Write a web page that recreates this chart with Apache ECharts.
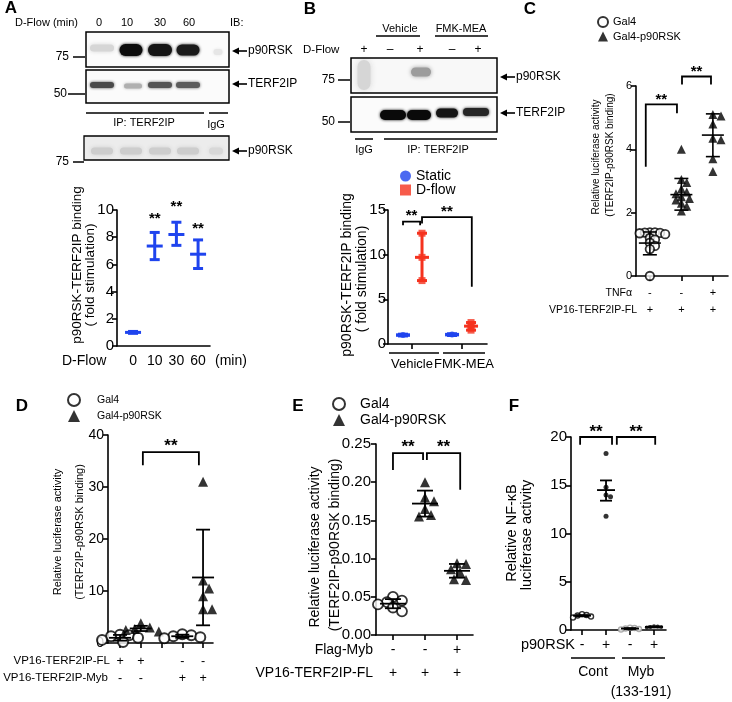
<!DOCTYPE html>
<html><head><meta charset="utf-8">
<script src="https://cdn.jsdelivr.net/npm/echarts@6/dist/echarts.min.js"></script>
<style>html,body{margin:0;padding:0;background:#fff}#c{width:732px;height:702px}</style>
</head><body><div id="c"></div>
<script>
const FONT = '"Liberation Sans", Arial, Helvetica, sans-serif';

// ================= DATA =================
// Panel A : p90RSK-TERF2IP binding vs D-flow time
const aTimes = ['0', '10', '30', '60'];
const aMean = [1.0, 7.35, 8.2, 6.75];
const aLow  = [0.93, 6.35, 7.4, 5.7];
const aHigh = [1.07, 8.35, 9.1, 7.8];
const aStars = [[1, 9.6], [2, 10.5], [3, 8.9]];

// Panel B : Static / D-flow, Vehicle vs FMK-MEA
const bGroups = ['Vehicle', 'FMK-MEA'];
const bSigns = ['+', '–', '+', '–', '+'];
const bStatMean = [1.0, 1.05];
const bStatLow  = [0.93, 0.98];
const bStatHigh = [1.07, 1.12];
const bStatPts  = [[1.0], [1.05]];
const bFlowMean = [9.7, 2.0];
const bFlowLow  = [7.1, 1.55];
const bFlowHigh = [12.4, 2.4];
const bFlowPts  = [[12.4, 9.7, 7.1], [2.4, 2.0, 1.55]];
const bBrackets = [[0, 0.9, 13.7, 13.3, 13.3], [1.0, 3.62, 14.2, 13.5, 6.4]];

// Panel C
const cTnf  = ['-', '-', '+'];
const cVp16 = ['+', '+', '+'];
const cGal4 = [1.38, 1.38, 1.37, 1.36, 1.35, 1.32, 1.2, 1.15, 1.05, 0.95, 0.85, 0.0];
const cRsk  = [4.0, 3.05, 2.95, 2.75, 2.65, 2.6, 2.5, 2.45, 2.4, 2.3, 2.2, 2.05];
const cRskTnf = [5.1, 5.05, 4.8, 4.35, 4.3, 3.7, 3.3];
const cMean = [1.04, 2.57, 4.45];
const cLow  = [0.67, 2.08, 3.77];
const cHigh = [1.39, 3.08, 5.12];
const cBrackets = [[-0.13, 0.86, 5.42, 3.45, 5.14], [1.02, 1.94, 6.3, 6.05, 6.05]];

// Panel D
const dFL  = ['+', '+', '-', '-'];
const dMyb = ['-', '-', '+', '+'];
const dGal4FL  = [1.6, 1.5, 1.3, 1.0, 0.6, 0.2];
const dRskFL   = [3.8, 3.0, 2.7, 2.5, 2.2];
const dGal4Myb = [1.7, 1.5, 1.3, 1.1, 0.9];
const dRskMyb  = [31, 12, 10.5, 9, 6.5, 6.5];
const dMean = [1.0, 2.8, 1.3, 12.6];
const dLow  = [0.45, 2.3, 1.0, 3.4];
const dHigh = [1.55, 3.3, 1.6, 21.8];
const dBrackets = [[1.1, 3.8, 36.7, 34.2, 34.2]];

// Panel E
const eMyb = ['-', '-', '+'];
const eFL  = ['+', '+', '+'];
const eGal4 = [0.050, 0.045, 0.043, 0.040, 0.036, 0.031];
const eRsk  = [0.200, 0.180, 0.175, 0.165, 0.157, 0.155];
const eRskMyb = [0.094, 0.093, 0.086, 0.082, 0.073, 0.072];
const eMean = [0.041, 0.172, 0.084];
const eLow  = [0.035, 0.155, 0.075];
const eHigh = [0.047, 0.189, 0.093];
const eBrackets = [[0, 0.94, 0.238, 0.216, 0.229], [1.06, 2.1, 0.238, 0.229, 0.19]];

// Panel F
const fRsk = ['-', '+', '-', '+'];
const fGroups = ['Cont', 'Myb', '(133-191)'];
const fContNeg = [1.65, 1.55, 1.5, 1.4, 1.3];
const fContPos = [18.3, 14.8, 14.0, 13.8, 11.8];
const fMybNeg  = [0.25, 0.2, 0.15, 0.1, 0.05];
const fMybPos  = [0.4, 0.35, 0.3, 0.3, 0.25];
const fMean = [1.48, 14.5, 0.15, 0.32];
const fLow  = [1.42, 13.4, 0.1, 0.27];
const fHigh = [1.55, 15.5, 0.2, 0.37];
const fBrackets = [[-0.08, 1.25, 20, 19.2, 19.2], [1.45, 3.05, 20, 19.2, 19.2]];

// ================= LAYOUT =================
const grids = [
  {left:117, top:210, width:93, height:136, xmin:-0.74, xmax:3.55, ymin:0, ymax:10, yint:2, yfs:15, ym:3},
  {left:388, top:210, width:99, height:134, xmin:-0.79, xmax:4.42, ymin:0, ymax:15, yint:5, yfs:15, ym:2},
  {left:636, top:86, width:92, height:190, xmin:-0.44, xmax:2.48, ymin:0, ymax:6, yint:2, yfs:11, ym:4},
  {left:108, top:435, width:105, height:208, xmin:-0.58, xmax:4.48, ymin:0, ymax:40, yint:10, yfs:14, ym:4},
  {left:376, top:444, width:97, height:191, xmin:-0.53, xmax:2.5, ymin:0, ymax:0.25, yint:0.05, yfs:15, ym:5, yfmt:v=>v.toFixed(2)},
  {left:571, top:437, width:95, height:193, xmin:-0.46, xmax:3.5, ymin:0, ymax:20, yint:5, yfs:15, ym:4}
];
const bX = {stat:[0, 2.58], flow:[1, 3.58]};
const BLUE = '#1f44ee', RED = '#f5321e';

const xCfg = [
  {ticks:null, labVals:[0,1,2,3], labs:aTimes, fs:14, margin:7, lh:16},
  {ticks:[0.47,3.1], labVals:[], labs:[], fs:13, margin:13, lh:15},
  {ticks:[0,1,2], labVals:[0,1,2], labs:cTnf.map((t,i)=>t+'\n'+cVp16[i]), fs:11, margin:8, lh:17},
  {ticks:[0,1,2,3,4], labVals:[0,1,3,4], labs:dFL.map((t,i)=>t+'\n'+dMyb[i]), fs:12.5, margin:10, lh:17},
  {ticks:[0,1,2], labVals:[0,1,2], labs:eMyb.map((t,i)=>t+'\n'+eFL[i]), fs:14, margin:4, lh:23},
  {ticks:[0,1,2,3], labVals:[0,1,2,3], labs:fRsk, fs:14, margin:7, lh:16}
];

const axLine = {color:'#000', width:1.6};
const option = {
  animation:false, textStyle:{fontFamily:FONT},
  grid:[], xAxis:[], yAxis:[], series:[], legend:[], graphic:{elements:[]}
};
grids.forEach((g,i)=>{
  option.grid.push({left:g.left, top:g.top, width:g.width, height:g.height, containLabel:false, outerBoundsMode:'none'});
  option.yAxis.push({type:'value', gridIndex:i, min:g.ymin, max:g.ymax, interval:g.yint,
    axisLine:{show:true, onZero:false, lineStyle:axLine}, axisTick:{show:true, length:5, lineStyle:axLine},
    splitLine:{show:false},
    axisLabel:{color:'#000', fontSize:g.yfs, fontFamily:FONT, margin:g.ym, formatter:g.yfmt}});
  const xc = xCfg[i];
  option.xAxis.push({type:'value', gridIndex:i, min:g.xmin, max:g.xmax, splitLine:{show:false},
    axisLine:{show:true, onZero:false, lineStyle:axLine},
    axisTick:xc.ticks ? {show:true, customValues:xc.ticks, length:5, lineStyle:axLine} : {show:false},
    axisLabel:xc.labVals.length ? {customValues:xc.labVals, color:'#000', fontSize:xc.fs, fontFamily:FONT, margin:xc.margin, lineHeight:xc.lh,
      hideOverlap:false,
      formatter:(v)=>{const k = xc.labVals.findIndex(t=>Math.abs(t-v)<1e-6); return k<0?'':xc.labs[k];}} : {show:false}});
});

// ---------- series helpers ----------
function errBars(gi, xs, mean, low, high, o){
  return {type:'custom', xAxisIndex:gi, yAxisIndex:gi, clip:false, silent:true, z:4,
    data: xs.map((x,i)=>[x, mean[i], low[i], high[i]]), encode:{x:0, y:[1,2,3]},
    renderItem(p, api){
      const x = api.value(0);
      const m = api.coord([x, api.value(1)]), lo = api.coord([x, api.value(2)]), hi = api.coord([x, api.value(3)]);
      const st = {stroke:o.color, lineWidth:o.lw, fill:null, lineCap:'butt'};
      return {type:'group', children:[
        {type:'line', shape:{x1:m[0], y1:lo[1], x2:m[0], y2:hi[1]}, style:st},
        {type:'line', shape:{x1:m[0]-o.cap, y1:lo[1], x2:m[0]+o.cap, y2:lo[1]}, style:st},
        {type:'line', shape:{x1:m[0]-o.cap, y1:hi[1], x2:m[0]+o.cap, y2:hi[1]}, style:st},
        {type:'line', shape:{x1:m[0]-o.mw, y1:m[1], x2:m[0]+o.mw, y2:m[1]}, style:Object.assign({}, st, {lineWidth:o.mlw||o.lw})}
      ]};
    }};
}
// deterministic beeswarm layout of points around a group centre
function swarm(vals, g, d, ov){
  const py = g.height/(g.ymax-g.ymin), px = g.width/(g.xmax-g.xmin);
  const placed = [];
  return vals.map(v=>{
    const y = v*py; let off = 0;
    for (let k=0;k<80;k++){
      const c = (k%2?1:-1)*Math.ceil(k/2)*d*0.3;
      if (placed.every(q=>(q[0]-c)**2+(q[1]-y)**2 >= (d*ov)**2)) {off = c; break;}
    }
    placed.push([off,y]);
    return off/px;
  });
}
function pts(gi, name, x, vals, sym){
  const off = sym.noSwarm ? vals.map(()=>0) : swarm(vals, grids[gi], sym.d || sym.size, sym.ov || 0.9);
  return {type:'scatter', name, xAxisIndex:gi, yAxisIndex:gi, symbol:sym.shape, symbolSize:sym.size, clip:false, silent:true, z:2,
    data: vals.map((v,i)=>[x+off[i], v]), itemStyle:sym.style};
}
function brackets(gi, list, o){
  return {type:'custom', xAxisIndex:gi, yAxisIndex:gi, clip:false, silent:true, z:5,
    data:list, encode:{x:[0,1], y:[2,3,4]},
    renderItem(p, api){
      const x1=api.value(0), x2=api.value(1), t=api.value(2);
      const a=api.coord([x1, api.value(3)]), b=api.coord([x1,t]), c=api.coord([x2,t]), d=api.coord([x2, api.value(4)]);
      return {type:'group', children:[
        {type:'polyline', shape:{points:[a,b,c,d]}, style:{stroke:'#000', lineWidth:o.lw||1.8, fill:null}},
        {type:'text', x:(b[0]+c[0])/2, y:b[1]-o.gap+3.5, style:{text:'**', fontSize:o.fs, fontWeight:'bold', fontFamily:FONT, fill:'#000', align:'center', verticalAlign:'middle'}}
      ]};
    }};
}
function stars(gi, list, fs){
  return {type:'custom', xAxisIndex:gi, yAxisIndex:gi, clip:false, silent:true, z:5, data:list, encode:{x:0,y:1},
    renderItem(p, api){
      const c = api.coord([api.value(0), api.value(1)]);
      return {type:'text', x:c[0], y:c[1]+3.5, style:{text:'**', fontSize:fs, fontWeight:'bold', fontFamily:FONT, fill:'#000', align:'center', verticalAlign:'middle'}};
    }};
}
const HOLLOW = (s,bw,ov)=>({shape:'circle', size:s, ov, style:{color:'#fff', borderColor:'#000', borderWidth:bw}});
const TRI = (s,ov)=>({shape:'triangle', size:s, ov, style:{color:'#000'}});

const S = option.series;
// A
S.push(errBars(0, [0,1,2,3], aMean, aLow, aHigh, {color:BLUE, lw:3, cap:5, mw:8}));
S.push(stars(0, aStars, 15));
// B
bGroups.forEach((g,i)=>{
  S.push(pts(1, 'Static', bX.stat[i], bStatPts[i], {shape:'circle', size:6, noSwarm:true, style:{color:BLUE}}));
  S.push(pts(1, 'D-flow', bX.flow[i], bFlowPts[i], {shape:'rect', size:7, noSwarm:true, style:{color:RED}}));
});
S.push(errBars(1, bX.stat, bStatMean, bStatLow, bStatHigh, {color:BLUE, lw:3.5, cap:5, mw:7}));
S.push(errBars(1, bX.flow, bFlowMean, bFlowLow, bFlowHigh, {color:RED, lw:3, cap:5, mw:7}));
S.push(brackets(1, bBrackets, {fs:15, gap:9}));
// C
S.push(pts(2, 'Gal4', 0, cGal4, HOLLOW(8.5, 1.8, 0.55)));
S.push(pts(2, 'Gal4-p90RSK', 1, cRsk, TRI(9, 0.65)));
S.push(pts(2, 'Gal4-p90RSK', 2, cRskTnf, TRI(9, 0.8)));
S.push(errBars(2, [0,1,2], cMean, cLow, cHigh, {color:'#000', lw:1.6, cap:7, mw:11}));
S.push(brackets(2, cBrackets, {fs:15, gap:8}));
// D
S.push(pts(3, 'Gal4', 0, dGal4FL, HOLLOW(10, 2, 0.75)));
S.push(pts(3, 'Gal4-p90RSK', 1, dRskFL, TRI(10, 0.75)));
S.push(pts(3, 'Gal4', 3, dGal4Myb, HOLLOW(10, 2, 0.75)));
S.push(pts(3, 'Gal4-p90RSK', 4, dRskMyb, TRI(10, 0.9)));
S.push(errBars(3, [0,1,3,4], dMean, dLow, dHigh, {color:'#000', lw:1.8, cap:7, mw:11}));
S.push(brackets(3, dBrackets, {fs:17, gap:9}));
// E
S.push(pts(4, 'Gal4', 0, eGal4, HOLLOW(10, 1.8, 0.75)));
S.push(pts(4, 'Gal4-p90RSK', 1, eRsk, TRI(10, 0.85)));
S.push(pts(4, 'Gal4-p90RSK', 2, eRskMyb, TRI(10, 0.85)));
S.push(errBars(4, [0,1,2], eMean, eLow, eHigh, {color:'#000', lw:1.8, cap:8, mw:13}));
S.push(brackets(4, eBrackets, {fs:17, gap:9}));
// F
S.push(pts(5, 'F-cont-neg', 0, fContNeg, {shape:'circle', size:5, d:5, style:{color:'#fff', borderColor:'#000', borderWidth:1.4}}));
S.push(pts(5, 'F-cont-pos', 1, fContPos, {shape:'circle', size:5, d:5, style:{color:'#000'}}));
S.push(pts(5, 'F-myb-neg', 2, fMybNeg, {shape:'circle', size:5, d:5, style:{color:'#fff', borderColor:'#999', borderWidth:1.4}}));
S.push(pts(5, 'F-myb-pos', 3, fMybPos, {shape:'circle', size:4, d:4, style:{color:'#000'}}));
S.push(errBars(5, [0,1,2,3], fMean, fLow, fHigh, {color:'#000', lw:1.8, cap:6, mw:9}));
S.push(brackets(5, fBrackets, {fs:17, gap:8}));

// ---------- legends ----------
const lg = (names, left, top, iw, gap, fs, pad) => ({data:names, left, top, orient:'vertical', itemWidth:iw, itemHeight:iw, itemGap:gap,
  selectedMode:false, textStyle:{fontSize:fs, fontFamily:FONT, color:'#000', padding:[0,0,0,pad||0]}});
option.legend.push(lg(['Static','D-flow'], 395, 164, 11, 0, 14, 0));
option.legend.push(lg(['Gal4','Gal4-p90RSK'], 592, 11, 10, 3, 11, 0));
option.legend.push(lg(['Gal4','Gal4-p90RSK'], 62, 388, 12, 3, 10.5, 12));
option.legend.push(lg(['Gal4','Gal4-p90RSK'], 327, 392, 12, 2, 14, 10));

// ---------- graphic (blots, labels) ----------
const E = option.graphic.elements;
function T(x,y,text,fs,o){ o=o||{}; return {type:'text', x, y, rotation:o.rot||0, silent:true,
  style:{text, fontSize:fs, fontFamily:FONT, fontWeight:o.fw||'normal', fill:o.color||'#000', align:o.align||'center', verticalAlign:'middle'}}; }
function L(x1,y1,x2,y2,w,c){ return {type:'line', silent:true, shape:{x1,y1,x2,y2}, style:{stroke:c||'#000', lineWidth:w||1.5}}; }
function Rc(x,y,w,h,fill,stroke,lw){ return {type:'rect', silent:true, shape:{x,y,width:w,height:h}, style:{fill:fill||null, stroke:stroke||null, lineWidth:lw||0}}; }
function band(cx,cy,w,h,c,blur){ return {type:'rect', silent:true, shape:{x:cx-w/2,y:cy-h/2,width:w,height:h,r:h/2}, style:{fill:c, shadowBlur:blur||3, shadowColor:c}}; }
function arrow(x,y,label){ return [
  {type:'polygon', silent:true, shape:{points:[[x,y],[x+7,y-3.5],[x+7,y+3.5]]}, style:{fill:'#000'}},
  L(x+6,y,x+15,y,1.6), T(x+16,y,label,12,{align:'left'}) ]; }
const VT = (x,y,text,fs)=>T(x,y,text,fs,{rot:Math.PI/2});

// panel letters
[['A',11,8],['B',310,9],['C',530,9],['D',22,406],['E',298,406],['F',514,406]].forEach(l=>E.push(T(l[1],l[2],l[0],17,{fw:'bold'})));

// ---- Panel A blots
E.push(T(15,23,'D-Flow (min)',11,{align:'left'}));
const aLaneX = [99,127,160,189];
aTimes.forEach((t,i)=>E.push(T(aLaneX[i],23,t,11)));
E.push(T(230,23,'IB:',11,{align:'left'}));
E.push(Rc(86,32,143,35,'#fbfbfb'));
E.push(band(102,48,24,7,'#d6d6d6',4), band(131,50,23,12,'#0c0c0c',3), band(160,50,24,12,'#151515',3), band(188,50,23,11,'#1a1a1a',3), band(218,52,9,6,'#e6e6e6',3));
E.push(Rc(86,32,143,35,null,'#000',1.5));
E.push(Rc(86,70,143,33,'#fbfbfb'));
E.push(band(102,85,24,6,'#4a4a4a',3), band(133,86,18,5,'#b0b0b0',3), band(160,85,24,6,'#555',3), band(188,85,24,6,'#5c5c5c',3));
E.push(Rc(86,70,143,33,null,'#000',1.5));
E.push(L(86,113,204,113,1.5), L(209,113,228,113,1.5));
E.push(T(144,123,'IP: TERF2IP',11), T(216,125,'IgG',11));
E.push(Rc(84,136,145,24,'#ececec'));
[102,131,160,188].forEach(x=>E.push(band(x,151,22,7,'#cdcdcd',4)));
E.push(band(216,151,14,7,'#d8d8d8',4));
E.push(Rc(84,136,145,24,null,'#000',1.3));
E.push(T(69,57,'75',12,{align:'right'}), L(73,57,85,57,1.5));
E.push(T(67,94,'50',12,{align:'right'}), L(68,94,85,94,1.5));
E.push(T(69,162,'75',12,{align:'right'}), L(73,162,84,162,1.5));
E.push(...arrow(232,51,'p90RSK'), ...arrow(232,84,'TERF2IP'), ...arrow(232,151,'p90RSK'));
// A axis text
E.push(VT(77,265,'p90RSK-TERF2IP binding',13.5), VT(90,275,'( fold stimulation)',13.5));
E.push(T(62,361,'D-Flow',14,{align:'left'}), T(215,361,'(min)',14,{align:'left'}));

// ---- Panel B blots
E.push(T(400,29,bGroups[0],11), L(376,36,420,36,1.5), T(461,29,bGroups[1],11), L(435,36,488,36,1.5));
E.push(T(303,50,'D-Flow',11.5,{align:'left'}));
const bLaneX = [364,390,420,452,478];
bSigns.forEach((s,i)=>E.push(T(bLaneX[i],50,s,12)));
E.push(Rc(351,58,146,35,'#f8f8f8'));
E.push(band(364,75,13,30,'#d6d6d6',6), band(421,72,20,9,'#9c9c9c',4));
E.push(Rc(351,58,146,35,null,'#000',1.5));
E.push(Rc(351,97,146,35,'#fbfbfb'));
E.push(band(393,115,26,10,'#0a0a0a',3), band(419,115,24,10,'#0a0a0a',3), band(447,113,22,9,'#151515',3), band(476,112,26,8,'#262626',3));
E.push(Rc(351,97,146,35,null,'#000',1.5));
E.push(T(335,80,'75',12,{align:'right'}), L(338,80,350,80,1.5));
E.push(T(335,122,'50',12,{align:'right'}), L(338,122,350,122,1.5));
E.push(...arrow(500,77,'p90RSK'), ...arrow(500,113,'TERF2IP'));
E.push(L(355,139,373,139,1.5), L(384,139,497,139,1.5));
E.push(T(364,150,'IgG',11), T(438,150,'IP: TERF2IP',11));
E.push(VT(347,275,'p90RSK-TERF2IP binding',14), VT(362,279,'( fold stimulation)',14));
E.push(L(389,353,439,353,1.5), L(443,353,485,353,1.5));
E.push(T(412,364,bGroups[0],13), T(464,364,bGroups[1],13));

// ---- Panel C text
E.push(VT(596,157,'Relative luciferase activity',10), VT(610,155,'(TERF2IP-p90RSK binding)',10));
E.push(T(632,293,'TNFα',10.5,{align:'right'}), T(637,310,'VP16-TERF2IP-FL',10.5,{align:'right'}));

// ---- Panel D text
E.push(VT(58,532,'Relative luciferase activity',11), VT(80,532,'(TERF2IP-p90RSK binding)',11));
E.push(T(110,661,'VP16-TERF2IP-FL',11.5,{align:'right'}), T(108,678,'VP16-TERF2IP-Myb',11.5,{align:'right'}));

// ---- Panel E text
E.push(VT(315,547,'Relative luciferase activity',14), VT(335,545,'(TERF2IP-p90RSK binding)',14));
E.push(T(373,650,'Flag-Myb',14,{align:'right'}), T(373,673,'VP16-TERF2IP-FL',14,{align:'right'}));

// ---- Panel F text
E.push(VT(512,533,'Relative NF-κB',14.5), VT(527,535,'luciferase activity',14.5));
E.push(T(575,645,'p90RSK',14.5,{align:'right'}));
E.push(L(571,658,615,658,1.5), L(622,658,665,658,1.5));
E.push(T(593,672,fGroups[0],14), T(641,672,fGroups[1],14), T(641,692,fGroups[2],14));

const chart = echarts.init(document.getElementById('c'), null, {renderer:'canvas'});
chart.setOption(option);
</script></body></html>
